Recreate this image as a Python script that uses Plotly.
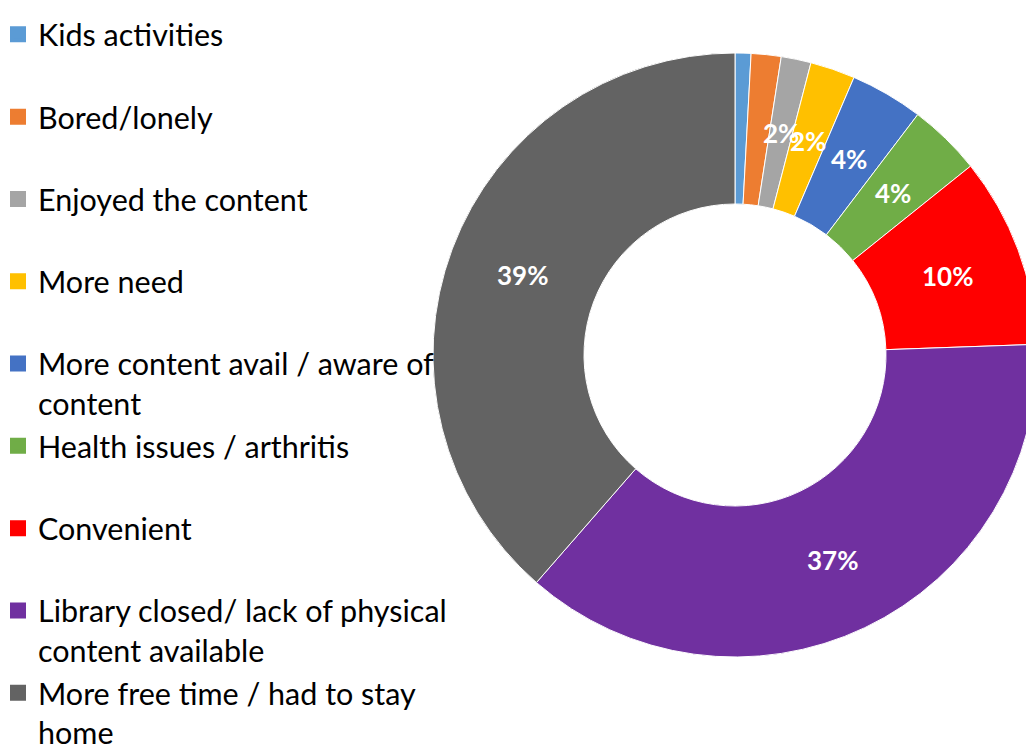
import math
import plotly.graph_objects as go

# ---- data ----
categories = [
    "Kids activities",
    "Bored/lonely",
    "Enjoyed the content",
    "More need",
    "More content avail / aware of content",
    "Health issues / arthritis",
    "Convenient",
    "Library closed/ lack of physical content available",
    "More free time / had to stay home",
]
legend_labels = [
    "Kids activities<br> ",
    "Bored/lonely<br> ",
    "Enjoyed the content<br> ",
    "More need<br> ",
    "More content avail / aware of<br>content",
    "Health issues / arthritis<br> ",
    "Convenient<br> ",
    "Library closed/ lack of physical<br>content available",
    "More free time / had to stay<br>home",
]
values = [0.85, 1.6, 1.6, 2.4, 3.9, 3.9, 10.2, 37.0, 38.6]
show_label = [False, False, True, True, True, True, True, True, True]
colors = ["#5B9BD5", "#ED7D31", "#A5A5A5", "#FFC000", "#4472C4",
          "#70AD47", "#FF0000", "#7030A0", "#636363"]

# figure geometry (page has an 8px body margin, so figure coords = page - 8)
W, H = 1034, 756
cx, cy = 727, 347          # pie centre in figure pixels
R = 302                    # outer radius
HOLE = 0.5
R_LABEL = R * (1 + HOLE) / 2   # labels sit in the middle of the ring


def dom(r):
    return dict(x=[(cx - r) / W, (cx + r) / W],
                y=[(H - cy - r) / H, (H - cy + r) / H])


fig = go.Figure()

# pie underneath that only supplies slightly larger legend swatches
fig.add_trace(go.Pie(
    labels=legend_labels,
    values=values,
    sort=False,
    direction="clockwise",
    rotation=0,
    hole=0.51,
    marker=dict(colors=colors, line=dict(color=colors, width=4)),
    textinfo="none",
    domain=dom(R - 2),
    hoverinfo="skip",
    showlegend=True,
))

# visible donut
fig.add_trace(go.Pie(
    labels=legend_labels,
    values=values,
    sort=False,
    direction="clockwise",
    rotation=0,
    hole=HOLE,
    marker=dict(colors=colors, line=dict(color="white", width=1)),
    textinfo="none",
    domain=dom(R),
    hovertext=categories,
    hoverinfo="text+percent",
    showlegend=False,
))

# percentage labels at the middle angle of each slice, mid-ring
total = sum(values)
cum = 0.0
annotations = []
for v, show in zip(values, show_label):
    mid = (cum + v / 2) / total * 2 * math.pi   # clockwise from 12 o'clock
    cum += v
    if not show:
        continue
    px = cx + R_LABEL * math.sin(mid)
    py = cy - R_LABEL * math.cos(mid)
    annotations.append(dict(
        x=px / W, y=1 - py / H, xref="paper", yref="paper",
        text=f"{round(v / total * 100)}%",
        showarrow=False, xanchor="center", yanchor="middle",
        font=dict(family="Lato", size=26, color="white", weight="bold"),
    ))

fig.update_layout(
    width=W, height=H,
    margin=dict(l=0, r=0, t=0, b=0, autoexpand=False),
    paper_bgcolor="white",
    plot_bgcolor="white",
    annotations=annotations,
    legend=dict(
        x=-10 / W, y=1, xanchor="left", yanchor="top",
        font=dict(family="Lato", size=30.5, color="black"),
        valign="top",
        itemwidth=30,
        bgcolor="rgba(0,0,0,0)",
        traceorder="normal",
    ),
)

fig.write_html("out.html")
